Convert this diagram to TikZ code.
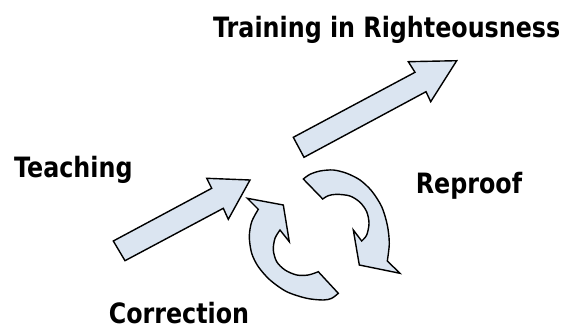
\documentclass[tikz,border=0pt]{standalone}
\usepackage{fontspec}
\newfontfamily\lblfont{DejaVu Sans}[FakeStretch=0.85]
\definecolor{arrowfill}{RGB}{219,229,241}
\begin{document}
\begin{tikzpicture}[x=1pt,y=-1pt,
  arrowshape/.style={draw=black, line width=1.4pt, fill=arrowfill, line join=miter},
  lbl/.style={font=\lblfont\bfseries\fontsize{28}{32}\selectfont, anchor=base, inner sep=0pt}]
\useasboundingbox (0,0) rectangle (575,329);
% straight arrow (Teaching)
\draw[arrowshape] (113.3,241) -- (211.7,188.3) -- (206.7,178.3) -- (250,180) -- (228.3,219.3) -- (223.3,208.3) -- (125,260.7) -- cycle;
% straight arrow (Training)
\draw[arrowshape] (293.3,137.3) -- (415,72.3) -- (408.3,61.7) -- (456.7,60.7) -- (430.7,101.7) -- (426,91.7) -- (304,157.3) -- cycle;
% curved arrow (Correction)
\draw[arrowshape] (247.3,198.3) -- (283.3,205) -- (289.3,241.7) -- (280,230)
  -- plot[smooth] coordinates {(280,230) (275,238.3) (273.3,250) (276.7,261.7) (285,270) (296.7,275) (308.3,275) (318.3,271.7)}
  -- (338.3,293.3)
  -- plot[smooth] coordinates {(338.3,293.3) (331.7,298.3) (323.3,300) (306.7,298.3) (286.7,291.7) (270,280) (258.3,266.7) (251.7,253.3) (249.3,236.7) (251.7,221.7) (258.3,209.3)}
  -- cycle;
% curved arrow (Reproof)
\draw[arrowshape] (400,273.3) -- (359.3,265) -- (353.3,230) -- (361.7,241)
  -- plot[smooth] coordinates {(361.7,241) (366.7,235) (369,223.3) (366.7,211.7) (360,202.3) (350,196) (336.7,194.3) (328.3,195.7) (322.7,199)}
  -- (303.3,179)
  -- plot[smooth] coordinates {(303.3,179) (310,174.3) (320,171) (333.3,170) (346.7,173.3) (360,180) (371.7,191) (381.7,206.7) (387.3,225) (389.3,243.3) (387.3,261)}
  -- cycle;
\node[lbl] (training) at (386.7,37.5) {Training in Righteousness};
\node[lbl] (teaching) at (73.3,177) {Teaching};
\node[lbl] (reproof) at (469,193.3) {Reproof};
\node[lbl] (correction) at (179,323.5) {Correction};
\end{tikzpicture}
\end{document}
